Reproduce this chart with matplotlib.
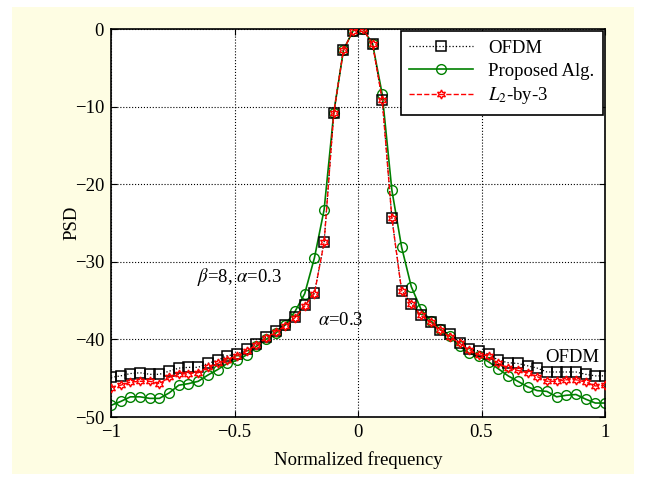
import numpy as np
import matplotlib
matplotlib.use('Agg')
import matplotlib.pyplot as plt
from matplotlib.patches import Rectangle

plt.rcParams['font.family'] = ['Liberation Serif', 'DejaVu Serif']
plt.rcParams['mathtext.fontset'] = 'stix'
plt.rcParams['font.size'] = 13.5

# normalized frequency grid (52 points)
freq = np.linspace(-1, 1, 52)

psd_ofdm = [-44.9, -44.7, -44.4, -44.3, -44.5, -44.5, -44.1, -43.7, -43.6, -43.6,
            -43.1, -42.7, -42.1, -41.9, -41.3, -40.6, -39.7, -38.9, -38.1, -37.1,
            -35.6, -34.0, -27.5, -10.8, -2.7, -0.2, 0.0, -1.9, -9.1, -24.4,
            -33.7, -35.4, -36.9, -37.8, -38.8, -39.3, -40.4, -41.2, -41.5, -41.9,
            -42.7, -43.0, -43.1, -43.4, -43.7, -44.2, -44.2, -44.2, -44.2, -44.5,
            -44.7, -44.7]

psd_prop = [-48.5, -48.0, -47.4, -47.4, -47.6, -47.6, -46.9, -45.9, -45.7, -45.4,
            -44.6, -43.9, -43.1, -42.7, -42.0, -40.9, -40.0, -39.2, -38.1, -36.4,
            -34.1, -29.5, -23.3, -10.8, -2.7, -0.2, 0.0, -1.9, -8.4, -20.8,
            -28.1, -33.2, -36.1, -37.6, -38.7, -39.6, -40.9, -41.8, -42.2, -42.9,
            -43.8, -44.7, -45.4, -46.1, -46.6, -46.7, -47.4, -47.2, -47.1, -47.7,
            -48.2, -48.2]

psd_l2 = [-46.2, -45.9, -45.5, -45.4, -45.4, -45.7, -44.9, -44.5, -44.4, -44.3,
          -43.6, -43.1, -42.6, -42.1, -41.5, -40.7, -39.8, -39.0, -38.3, -37.2,
          -35.7, -34.1, -27.5, -10.8, -2.7, -0.2, 0.0, -1.9, -9.1, -24.4,
          -33.7, -35.4, -36.9, -37.8, -38.8, -39.7, -40.5, -41.4, -42.0, -42.1,
          -43.1, -43.7, -44.0, -44.3, -44.8, -45.4, -45.4, -45.2, -45.2, -45.5,
          -46.0, -45.9]

xtick_vals = [-1, -0.5, 0, 0.5, 1]
xtick_labels = ['\u22121', '\u22120.5', '0', '0.5', '1']
ytick_vals = [-50, -40, -30, -20, -10, 0]
ytick_labels = ['\u221250', '\u221240', '\u221230', '\u221220', '\u221210', '0']

fig = plt.figure(figsize=(6.46, 4.82), dpi=100)
fig.patch.set_facecolor('white')
# pale yellow panel behind the plot
fig.patches.append(Rectangle((12/646, 1-474/482), 622/646, 467/482,
                             transform=fig.transFigure, facecolor='#fefde3',
                             edgecolor='none', zorder=-10))

ax = fig.add_axes([111/646, 1-417/482, 494/646, 388/482])
ax.set_facecolor('white')

ax.plot(freq, psd_ofdm, ':', color='black', lw=0.9, marker='s', ms=6.5,
        mfc='none', mec='black', mew=1.1, label='OFDM', zorder=3)
ax.plot(freq, psd_prop, '-', color='#008000', lw=1.2, marker='o', ms=7,
        mfc='none', mec='#008000', mew=1.0, label='Proposed Alg.', zorder=2)
ax.plot(freq, psd_l2, '--', color='red', lw=1.0, marker=(6, 1, 0), ms=6.5,
        mfc='none', mec='red', mew=1.0, label='$L_2$-by-3', zorder=4)

ax.set_xlim(-1, 1)
ax.set_ylim(-50, 0)
ax.set_xticks(xtick_vals)
ax.set_xticklabels(xtick_labels)
ax.set_yticks(ytick_vals)
ax.set_yticklabels(ytick_labels)
ax.tick_params(direction='in', top=True, right=True, labelsize=13.5, length=4, pad=5)
ax.grid(True, linestyle=':', color='black', lw=0.8)
for s in ax.spines.values():
    s.set_linewidth(1.2)

ax.set_xlabel('Normalized frequency', fontsize=13.5, labelpad=7)
ax.set_ylabel('PSD', fontsize=13.5, labelpad=-4)

ax.text(-0.652, -32.6, r'$\beta$=8, $\alpha$=0.3', fontsize=13.5, va='baseline')
ax.text(-0.162, -38.1, r'$\alpha$=0.3', fontsize=13.5, va='baseline')
ax.text(0.757, -42.9, 'OFDM', fontsize=13.5, va='baseline')

leg = ax.legend(loc='upper right', fontsize=13.5, fancybox=False, framealpha=1,
                edgecolor='black', borderaxespad=0.12, handlelength=3.4,
                labelspacing=0.3, borderpad=0.45)
leg.get_frame().set_linewidth(1.2)

fig.savefig('out.png', dpi=100)
